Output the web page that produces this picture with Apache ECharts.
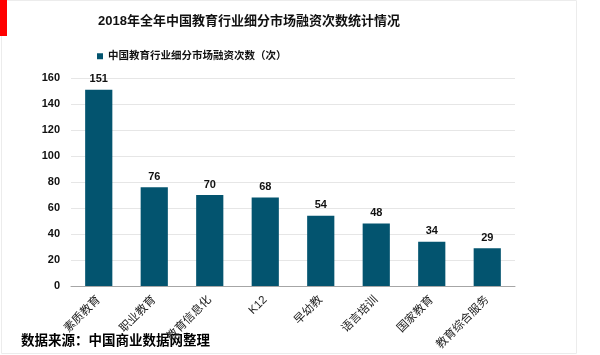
<!DOCTYPE html>
<html>
<head>
<meta charset="utf-8">
<script src="https://cdn.jsdelivr.net/npm/echarts@6/dist/echarts.min.js"></script>
<style>
  html, body { margin: 0; padding: 0; background: #fff; }
  #chart { width: 600px; height: 355px; }
</style>
</head>
<body>
<div id="chart"></div>
<script>
const categories = ["素质教育", "职业教育", "教育信息化", "K12", "早幼教", "语言培训", "国家教育", "教育综合服务"]
const counts = [151, 76, 70, 68, 54, 48, 34, 29]
const seriesName = "中国教育行业细分市场融资次数（次）"
const titleText = "2018年全年中国教育行业细分市场融资次数统计情况"
const sourceText = "数据来源：中国商业数据网整理"

const font = "'Liberation Sans', Arial, 'Noto Sans CJK SC', sans-serif"
const barColor = "#03546f"

const chart = echarts.init(document.getElementById("chart"))

chart.setOption({
  textStyle: { fontFamily: font },
  title: {
    text: titleText,
    left: 93,
    top: 10,
    textStyle: { fontSize: 13, fontWeight: "bold", color: "#111", fontFamily: font }
  },
  legend: {
    left: 92,
    top: 46,
    itemWidth: 6,
    itemHeight: 6,
    itemGap: 4,
    icon: "rect",
    textStyle: { fontSize: 10.5, fontWeight: "bold", color: "#111", fontFamily: font }
  },
  grid: {
    left: 71,
    right: 85,
    top: 78,
    bottom: 69
  },
  xAxis: {
    type: "category",
    data: categories,
    axisTick: { show: false },
    axisLine: { lineStyle: { color: "#a6a6a6", width: 1 } },
    axisLabel: {
      interval: 0,
      rotate: 45,
      margin: 12,
      fontSize: 11.5,
      color: "#222",
      fontFamily: font
    }
  },
  yAxis: {
    type: "value",
    min: 0,
    max: 160,
    interval: 20,
    axisLine: { show: false },
    axisTick: { show: false },
    splitLine: { lineStyle: { color: "#e6e6e6", width: 1 } },
    axisLabel: {
      margin: 11,
      fontSize: 11,
      fontWeight: "bold",
      color: "#111",
      fontFamily: font
    }
  },
  series: [
    {
      name: seriesName,
      type: "bar",
      data: counts,
      barWidth: "49%",
      itemStyle: { color: barColor },
      label: {
        show: true,
        position: "top",
        distance: 5,
        fontSize: 11,
        fontWeight: "bold",
        color: "#111",
        fontFamily: font
      }
    }
  ],
  graphic: [
    {
      type: "rect",
      shape: { x: 1.5, y: 0.5, width: 575, height: 353 },
      style: { fill: null, stroke: "#ececec", lineWidth: 1 },
      silent: true,
      z: -1
    },
    {
      type: "rect",
      shape: { x: 0, y: 0, width: 7, height: 36 },
      style: { fill: "#ff0000" },
      silent: true
    },
    {
      type: "text",
      left: 21,
      top: 335,
      style: {
        text: sourceText,
        fontSize: 13.5,
        fontWeight: "bold",
        fill: "#000",
        fontFamily: font
      }
    }
  ]
})
</script>
</body>
</html>
